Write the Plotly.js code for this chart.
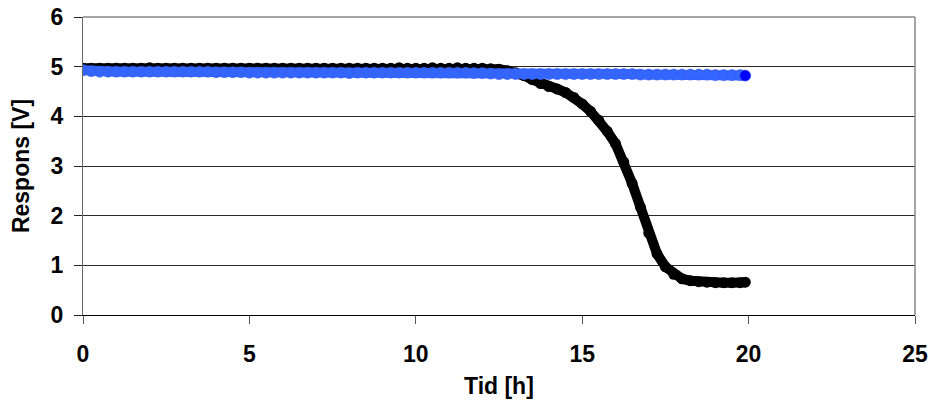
<!DOCTYPE html>
<html>
<head>
<meta charset="utf-8">
<script src="https://cdn.plot.ly/plotly-3.0.1.min.js"></script>
<style>html,body{margin:0;padding:0;background:#fff;}#chart{width:936px;height:401px;}</style>
</head>
<body>
<div id="chart"></div>
<script>
// Time [h]
var tid = [0,0.25,0.5,0.75,1,1.25,1.5,1.75,2,2.25,2.5,2.75,3,3.25,3.5,3.75,4,4.25,4.5,4.75,
  5,5.25,5.5,5.75,6,6.25,6.5,6.75,7,7.25,7.5,7.75,8,8.25,8.5,8.75,9,9.25,9.5,9.75,
  10,10.25,10.5,10.75,11,11.25,11.5,11.75,12,12.25,12.5,12.75,13,13.25,13.5,13.75,14,14.25,14.5,14.75,
  15,15.25,15.5,15.75,16,16.25,16.5,16.75,17,17.25,17.5,17.75,18,18.25,18.5,18.75,19,19.25,19.5,19.75,19.9];

// Black series: response [V]
var responsSvart = [4.97,4.97,4.97,4.97,4.97,4.97,4.97,4.97,4.98,4.97,4.97,4.97,4.97,4.97,4.97,4.97,4.97,4.97,4.97,4.97,
  4.97,4.97,4.97,4.97,4.97,4.97,4.97,4.97,4.97,4.97,4.97,4.97,4.97,4.97,4.97,4.97,4.97,4.97,4.98,4.97,
  4.97,4.97,4.98,4.97,4.97,4.98,4.97,4.97,4.97,4.96,4.95,4.92,4.88,4.82,4.74,4.66,4.60,4.55,4.48,4.38,
  4.25,4.10,3.92,3.70,3.45,3.08,2.65,2.17,1.65,1.23,0.97,0.82,0.73,0.69,0.67,0.66,0.65,0.65,0.65,0.65,0.66];

// Blue series: response [V]
var responsBla = [4.93,4.91,4.90,4.90,4.90,4.90,4.90,4.90,4.90,4.90,4.90,4.90,4.90,4.90,4.90,4.90,4.89,4.89,4.89,4.89,
  4.88,4.88,4.88,4.88,4.88,4.88,4.88,4.88,4.88,4.88,4.88,4.88,4.87,4.88,4.88,4.88,4.88,4.88,4.88,4.88,
  4.88,4.88,4.88,4.88,4.88,4.88,4.88,4.87,4.87,4.86,4.85,4.85,4.85,4.85,4.85,4.85,4.85,4.85,4.85,4.85,
  4.85,4.85,4.85,4.85,4.85,4.85,4.85,4.84,4.84,4.84,4.84,4.84,4.84,4.84,4.84,4.84,4.83,4.83,4.83,4.83,4.82];

var xTicks = [0,5,10,15,20,25];
var yTicks = [0,1,2,3,4,5,6];
var xTitle = 'Tid [h]';
var yTitle = 'Respons [V]';

var fontFam = 'Liberation Sans, Arial, sans-serif';

var blueColors = responsBla.map(function(v,i){ return i === responsBla.length-1 ? '#0000ff' : '#3366ff'; });

var traces = [
  {x: tid, y: responsSvart, type: 'scatter', mode: 'lines+markers', name: 'svart',
   line: {color: '#000000', width: 10}, marker: {color: '#000000', size: 11}},
  {x: tid, y: responsBla, type: 'scatter', mode: 'lines+markers', name: 'blå',
   line: {color: '#3366ff', width: 10},
   marker: {color: blueColors, size: 11, line: {color: '#3d5cf0', width: 0.6}}}
];

var layout = {
  width: 936, height: 401,
  margin: {l: 83, r: 21, t: 17, b: 86},
  paper_bgcolor: '#ffffff', plot_bgcolor: '#ffffff',
  showlegend: false,
  font: {family: fontFam, color: '#000000'},
  xaxis: {
    range: [0, 25], tickvals: xTicks, ticktext: xTicks.map(String),
    showgrid: false, zeroline: false,
    showline: true, linecolor: '#000000', linewidth: 1,
    ticks: 'outside', ticklen: 8, tickcolor: '#555555', tickwidth: 1,
    ticklabelstandoff: 10,
    tickfont: {family: fontFam, size: 23, weight: 700, color: '#000000'},
    automargin: false, fixedrange: true
  },
  yaxis: {
    range: [0, 6], tickvals: yTicks, ticktext: yTicks.map(String),
    showgrid: true, gridcolor: '#2a2a2a', gridwidth: 1,
    zeroline: false,
    showline: true, linecolor: '#666666', linewidth: 1,
    ticks: 'outside', ticklen: 8, tickcolor: '#222222', tickwidth: 1,
    ticklabelstandoff: 6,
    tickfont: {family: fontFam, size: 23, weight: 700, color: '#000000'},
    title: {text: yTitle, font: {family: fontFam, size: 23, weight: 700, color: '#000000'}, standoff: 14},
    automargin: false, fixedrange: true
  },
  annotations: [
    {text: xTitle, xref: 'paper', yref: 'paper', x: 0.5, y: -0.287, xanchor: 'center', yanchor: 'bottom',
     showarrow: false, font: {family: fontFam, size: 23, weight: 700, color: '#000000'}}
  ],
  shapes: [
    {type: 'line', xref: 'paper', yref: 'paper', x0: 1, x1: 1, y0: 0, y1: 1, line: {color: '#888888', width: 1.5}},
    {type: 'line', xref: 'paper', yref: 'paper', x0: 0, x1: 1, y0: 1, y1: 1, line: {color: '#888888', width: 1.5}}
  ]
};

Plotly.newPlot('chart', traces, layout, {displayModeBar: false, staticPlot: true});
</script>
</body>
</html>
